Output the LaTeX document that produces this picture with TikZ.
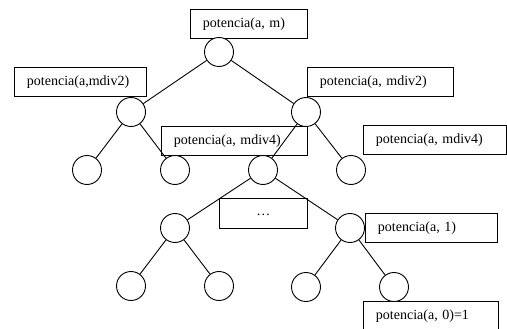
\documentclass[tikz,border=0pt]{standalone}
\usepackage{fontspec}
\setmainfont{Liberation Serif}
\begin{document}
\begin{tikzpicture}[x=1pt,y=-1pt,line width=0.9pt,
  nd/.style={draw, circle, fill=white, minimum size=29pt, inner sep=0pt},
  lbl/.style={draw, fill=white, rectangle, inner xsep=12.5pt, inner ysep=0pt,
    minimum height=29pt, text width=#1, align=left, anchor=north west,
    font=\fontsize{14}{17}\selectfont},
  edge/.style={draw}]
\useasboundingbox (0,0) rectangle (507,329);
% boxes
\node[lbl=92pt]  (b0) at (190,9)   {potencia(a, m)};
\node[lbl=107pt] (b1) at (14,67)   {potencia(a,mdiv2)};
\node[lbl=121pt] (b2) at (307,67)  {potencia(a, mdiv2)};
\node[lbl=121pt] (b3) at (161,126) {potencia(a, mdiv4)};
\node[lbl=118pt] (b4) at (363,125) {potencia(a, mdiv4)};
\node[draw, fill=white, rectangle, minimum width=88pt, minimum height=30pt, inner sep=0pt,
  anchor=north west, font=\fontsize{14}{17}\selectfont] (b5) at (219,198) {\raisebox{-5pt}{\ldots}};
\node[lbl=107pt] (b6) at (365,213) {potencia(a, 1)};
\node[lbl=110pt] (b7) at (363,301) {potencia(a, 0)=1};
% circles
\node[nd] (c0) at (219,52) {};
\node[nd] (c1) at (131,112) {};
\node[nd] (c2) at (306,112) {};
\node[nd] (c3) at (87,170) {};
\node[nd] (c4) at (175,170) {};
\node[nd] (c5) at (263,170) {};
\node[nd] (c6) at (351,170) {};
\node[nd] (c7) at (175,228) {};
\node[nd] (c8) at (350,228) {};
\node[nd] (c9) at (131,286) {};
\node[nd] (c10) at (219,286) {};
\node[nd] (c11) at (306,287) {};
\node[nd] (c12) at (394,287) {};
% connectors
\draw (c0) -- (c1);
\draw (c0) -- (c2);
\draw (c1) -- (c3);
\draw (c1) -- (c4);
\draw (c2) -- (c5);
\draw (c2) -- (c6);
\draw (c5) -- (c7);
\draw (c5) -- (c8);
\draw (c7) -- (c9);
\draw (c7) -- (c10);
\draw (c8) -- (c11);
\draw (c8) -- (c12);
\end{tikzpicture}
\end{document}
